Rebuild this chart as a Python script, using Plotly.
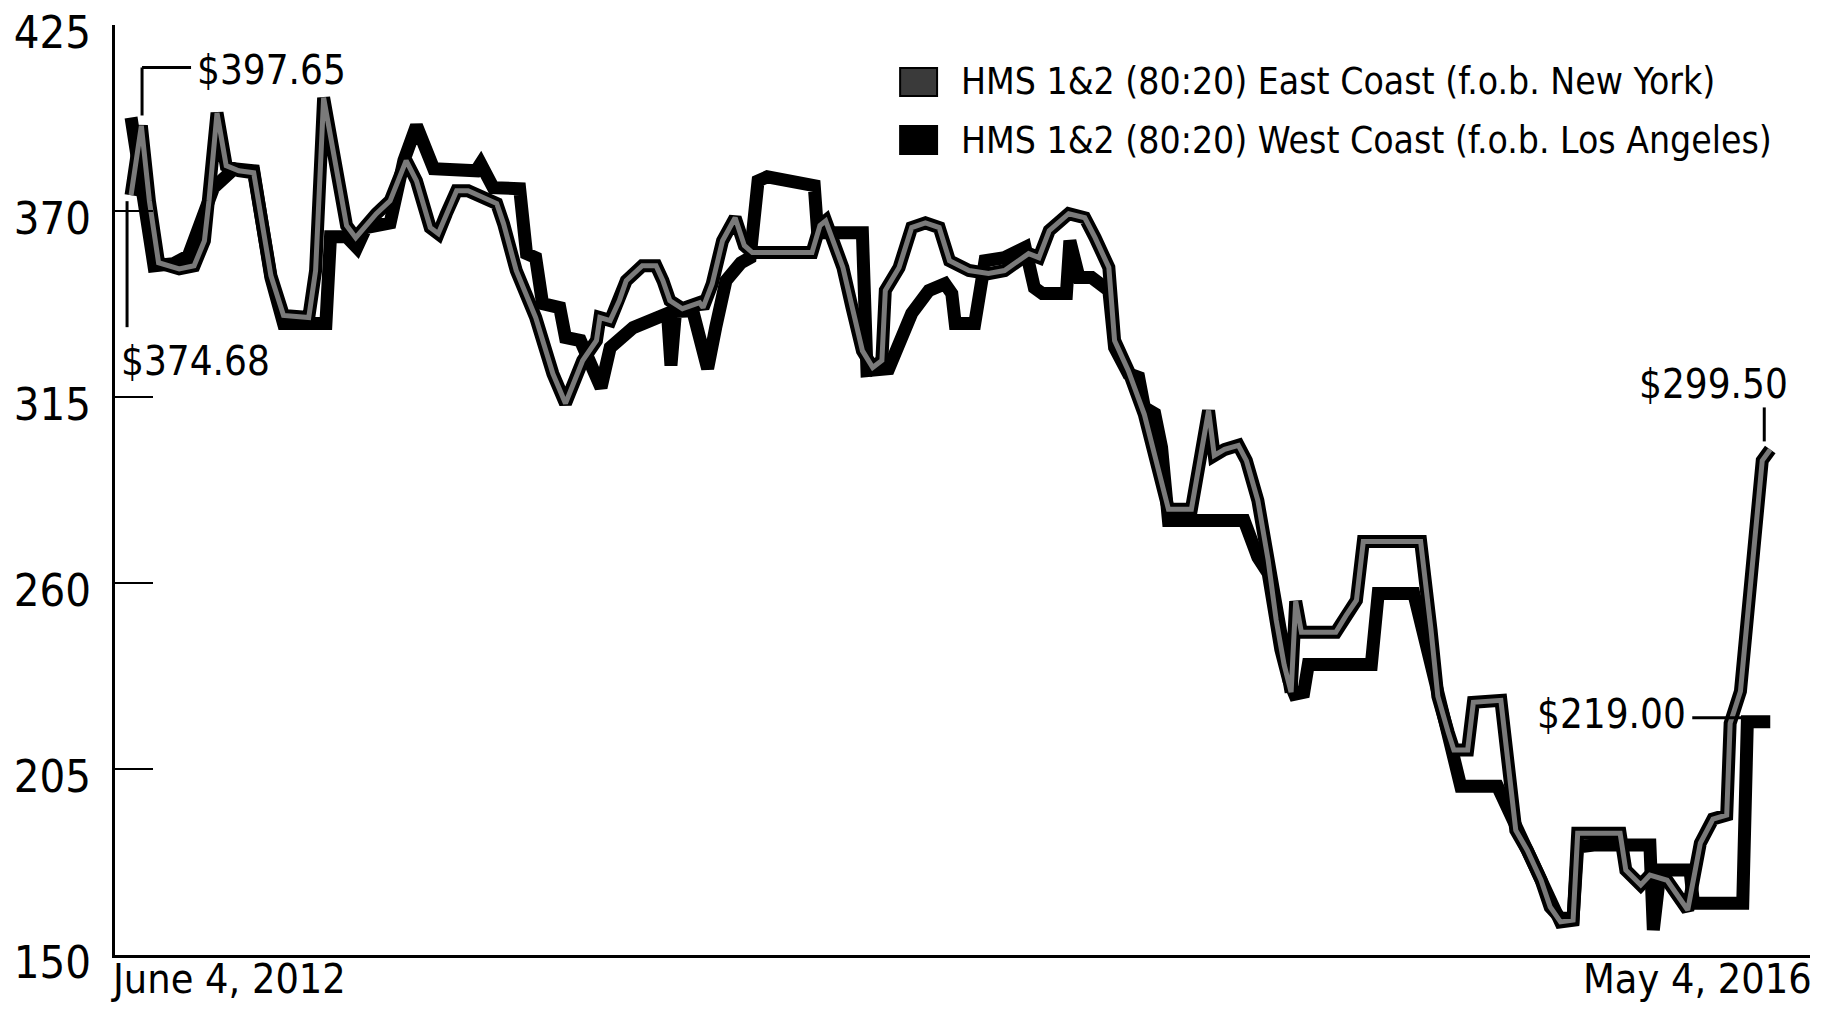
import plotly.graph_objects as go

# ---------------- data ----------------
east_name = "HMS 1&2 (80:20) East Coast (f.o.b. New York)"
west_name = "HMS 1&2 (80:20) West Coast (f.o.b. Los Angeles)"

west_dates = [
    "2012-06-04", "2012-06-24", "2012-07-11", "2012-07-24", "2012-08-15", "2012-09-02",
    "2012-09-19", "2012-10-04", "2012-10-15", "2012-11-21", "2012-11-25", "2012-12-09",
    "2012-12-18", "2012-12-26", "2013-01-16", "2013-01-28", "2013-02-08", "2013-02-23",
    "2013-04-01", "2013-04-05", "2013-04-16", "2013-05-09", "2013-05-15", "2013-05-23",
    "2013-05-29", "2013-06-13", "2013-06-18", "2013-07-01", "2013-07-19", "2013-07-27",
    "2013-08-16", "2013-09-05", "2013-09-15", "2013-09-18", "2013-09-22", "2013-10-07",
    "2013-10-20", "2013-10-27", "2013-11-05", "2013-11-18", "2013-11-26", "2013-12-03",
    "2013-12-11", "2014-01-21", "2014-01-24", "2014-03-04", "2014-03-08", "2014-03-27",
    "2014-04-02", "2014-04-16", "2014-05-01", "2014-05-15", "2014-05-21", "2014-05-24",
    "2014-06-10", "2014-06-15", "2014-06-19", "2014-07-06", "2014-07-24", "2014-08-01",
    "2014-08-08", "2014-08-29", "2014-09-01", "2014-09-09", "2014-09-20", "2014-10-05",
    "2014-10-10", "2014-10-22", "2014-10-31", "2014-11-05", "2014-11-14", "2014-11-20",
    "2014-11-23", "2014-11-26", "2015-01-31", "2015-02-12", "2015-02-21", "2015-02-26",
    "2015-03-04", "2015-03-11", "2015-03-16", "2015-03-24", "2015-03-28", "2015-05-22",
    "2015-05-28", "2015-06-28", "2015-07-13", "2015-07-19", "2015-07-28", "2015-08-02",
    "2015-08-08", "2015-09-09", "2015-10-05", "2015-10-17", "2015-10-25", "2015-11-03",
    "2015-11-14", "2015-11-18", "2015-12-02", "2016-01-20", "2016-01-23", "2016-01-29",
    "2016-02-24", "2016-02-27", "2016-04-10", "2016-04-14", "2016-05-04",
]
west_prices = [
    397.65, 353.8, 354.4, 356.8, 376.9, 382.5,
    381.9, 350.3, 336.7, 336.7, 362.4, 362.4,
    359.2, 365.1, 366.5, 384.9, 395.2, 382.5,
    381.9, 384.0, 376.9, 376.6, 357.4, 356.2,
    342.6, 341.4, 332.6, 331.7, 317.8, 329.6,
    335.5, 338.5, 339.7, 324.3, 340.3, 340.5,
    323.4, 335.5, 349.4, 354.7, 356.2, 378.9,
    380.1, 377.5, 363.6, 363.6, 322.8, 323.4,
    327.8, 339.7, 346.5, 348.5, 345.6, 336.7,
    336.7, 349.4, 355.3, 356.2, 359.2, 347.3,
    345.6, 345.6, 361.2, 350.3, 350.3, 346.5,
    329.6, 321.9, 320.8, 311.9, 310.1, 300.1,
    290.3, 278.5, 278.5, 267.6, 262.9, 252.2,
    240.4, 231.2, 227.1, 227.7, 235.9, 235.9,
    256.9, 256.9, 234.8, 226.5, 215.9, 205.2,
    199.9, 199.9, 181.9, 172.2, 164.2, 160.9,
    160.9, 181.9, 182.5, 182.5, 157.4, 175.1,
    175.1, 165.3, 165.3, 219.0, 219.00,
]

east_dates = [
    "2012-06-04", "2012-06-13", "2012-06-20", "2012-06-28", "2012-07-16", "2012-07-29",
    "2012-08-07", "2012-08-11", "2012-08-18", "2012-08-26", "2012-09-06", "2012-09-19",
    "2012-10-04", "2012-10-15", "2012-11-06", "2012-11-12", "2012-11-19", "2012-12-09",
    "2012-12-17", "2013-01-04", "2013-01-16", "2013-01-30", "2013-02-08", "2013-02-20",
    "2013-02-27", "2013-03-06", "2013-03-15", "2013-03-25", "2013-04-19", "2013-04-25",
    "2013-05-06", "2013-05-23", "2013-06-07", "2013-06-18", "2013-07-03", "2013-07-15",
    "2013-07-18", "2013-07-27", "2013-08-04", "2013-08-10", "2013-08-24", "2013-09-05",
    "2013-09-11", "2013-09-17", "2013-09-28", "2013-10-13", "2013-10-16", "2013-10-24",
    "2013-11-02", "2013-11-13", "2013-11-21", "2013-11-28", "2014-01-19", "2014-01-26",
    "2014-01-31", "2014-02-15", "2014-02-23", "2014-03-04", "2014-03-13", "2014-03-21",
    "2014-03-24", "2014-04-05", "2014-04-16", "2014-04-28", "2014-05-10", "2014-05-19",
    "2014-06-05", "2014-06-22", "2014-07-06", "2014-07-19", "2014-07-27", "2014-08-05",
    "2014-08-14", "2014-08-31", "2014-09-14", "2014-09-23", "2014-10-05", "2014-10-10",
    "2014-10-22", "2014-11-05", "2014-11-20", "2014-11-26", "2014-12-16", "2014-12-22",
    "2014-12-31", "2015-01-05", "2015-01-14", "2015-01-26", "2015-02-02", "2015-02-12",
    "2015-02-21", "2015-02-28", "2015-03-07", "2015-03-13", "2015-03-17", "2015-03-22",
    "2015-04-21", "2015-04-30", "2015-05-09", "2015-05-15", "2015-07-04", "2015-07-13",
    "2015-07-19", "2015-07-28", "2015-08-02", "2015-08-14", "2015-08-19", "2015-09-12",
    "2015-09-18", "2015-09-25", "2015-10-05", "2015-10-17", "2015-10-25", "2015-11-03",
    "2015-11-14", "2015-11-18", "2015-12-25", "2015-12-30", "2016-01-12", "2016-01-20",
    "2016-02-04", "2016-02-22", "2016-03-04", "2016-03-15", "2016-03-27", "2016-03-30",
    "2016-04-08", "2016-04-14", "2016-04-21", "2016-04-27", "2016-05-04",
]
east_prices = [
    374.68, 395.2, 373.0, 354.7, 352.9, 353.8,
    361.2, 373.0, 399.0, 383.4, 381.9, 381.3,
    350.9, 339.1, 338.5, 352.4, 403.5, 365.7,
    362.1, 369.2, 373.0, 384.9, 378.9, 365.1,
    363.3, 369.2, 376.0, 376.0, 372.2, 366.2,
    352.4, 338.5, 321.9, 313.1, 325.8, 331.7,
    338.5, 337.6, 343.5, 349.4, 353.8, 353.8,
    349.4, 343.5, 341.1, 342.9, 341.4, 348.5,
    361.2, 368.0, 359.8, 357.7, 357.7, 365.7,
    367.1, 353.3, 341.4, 328.7, 323.7, 325.8,
    346.5, 353.3, 365.1, 366.5, 365.1, 355.3,
    352.4, 351.5, 352.4, 355.3, 357.4, 356.2,
    364.2, 369.2, 368.0, 362.1, 353.3, 331.7,
    322.8, 309.8, 290.0, 281.8, 281.8, 293.6,
    311.0, 297.7, 299.5, 300.7, 296.2, 284.4,
    266.7, 249.0, 235.7, 227.7, 254.6, 245.4,
    245.4, 250.4, 254.9, 272.3, 272.3, 246.3,
    226.5, 215.9, 210.6, 210.6, 224.7, 225.3,
    207.6, 186.9, 181.0, 172.2, 164.2, 159.8,
    160.3, 186.0, 186.0, 175.1, 170.7, 173.6,
    172.1, 163.3, 183.1, 190.2, 191.4, 218.5,
    228.0, 249.0, 272.6, 296.2, 299.50,
]

y_ticks = [150, 205, 260, 315, 370, 425]
x_labels = ["June 4, 2012", "May 4, 2016"]

# ---------------- styling ----------------
FONT = "DejaVu Sans Condensed, Liberation Sans Narrow, Arial Narrow, sans-serif"
INK = "#000000"
EAST_FILL = "#7a7a7a"

fig = go.Figure()

fig.add_trace(go.Scatter(
    x=west_dates, y=west_prices, mode="lines", name=west_name,
    line=dict(color=INK, width=13), showlegend=False, hoverinfo="x+y+name"))
fig.add_trace(go.Scatter(
    x=east_dates, y=east_prices, mode="lines", name=east_name,
    line=dict(color=INK, width=13), showlegend=False, hoverinfo="x+y+name"))
fig.add_trace(go.Scatter(
    x=east_dates, y=east_prices, mode="lines", name=east_name,
    line=dict(color=EAST_FILL, width=5), showlegend=False, hoverinfo="skip"))

def money(v):
    return "${:,.2f}".format(v)

ann_font = dict(family=FONT, size=40, color=INK)
annotations = [
    # start values
    dict(x=west_dates[0], y=west_prices[0], xref="x", yref="y", text=money(west_prices[0]),
         showarrow=False, xanchor="left", yanchor="middle", xshift=64, yshift=47, font=ann_font),
    dict(x=east_dates[0], y=east_prices[0], xref="x", yref="y", text=money(east_prices[0]),
         showarrow=False, xanchor="left", yanchor="top", xshift=-12, yshift=-141, font=ann_font),
    # end values
    dict(x=east_dates[-1], y=east_prices[-1], xref="x", yref="y", text=money(east_prices[-1]),
         showarrow=False, xanchor="right", yanchor="bottom", xshift=20, yshift=40, font=ann_font),
    dict(x=west_dates[-1], y=west_prices[-1], xref="x", yref="y", text=money(west_prices[-1]),
         showarrow=False, xanchor="right", yanchor="middle", xshift=-82, yshift=8, font=ann_font),
    # x-axis end labels
    dict(x=west_dates[0], y=0, xref="x", yref="paper", text=x_labels[0], showarrow=False,
         xanchor="left", yanchor="top", xshift=-22, yshift=2, font=dict(family=FONT, size=41, color=INK)),
    dict(x=west_dates[-1], y=0, xref="x", yref="paper", text=x_labels[1], showarrow=False,
         xanchor="right", yanchor="top", xshift=44, yshift=2, font=dict(family=FONT, size=41, color=INK)),
    # legend text
    dict(x=0.4980, y=0.9390, xref="paper", yref="paper", text=east_name, showarrow=False,
         xanchor="left", yanchor="middle", font=dict(family=FONT, size=37, color=INK)),
    dict(x=0.4980, y=0.8755, xref="paper", yref="paper", text=west_name, showarrow=False,
         xanchor="left", yanchor="middle", font=dict(family=FONT, size=37, color=INK)),
]

lead = dict(color=INK, width=3)
shapes = [
    # $397.65 leader (L shape)
    dict(type="line", xref="x", yref="y", xsizemode="pixel", ysizemode="pixel",
         xanchor=west_dates[0], yanchor=west_prices[0], x0=11, x1=11, y0=2, y1=50, line=lead),
    dict(type="line", xref="x", yref="y", xsizemode="pixel", ysizemode="pixel",
         xanchor=west_dates[0], yanchor=west_prices[0], x0=11, x1=60, y0=50, y1=50, line=lead),
    # $374.68 leader
    dict(type="line", xref="x", yref="y", xsizemode="pixel", ysizemode="pixel",
         xanchor=east_dates[0], yanchor=east_prices[0], x0=-4, x1=-4, y0=-6, y1=-132, line=lead),
    # $299.50 leader
    dict(type="line", xref="x", yref="y", xsizemode="pixel", ysizemode="pixel",
         xanchor=east_dates[-1], yanchor=east_prices[-1], x0=-6, x1=-6, y0=8, y1=42, line=lead),
    # $219.00 leader
    dict(type="line", xref="x", yref="y", xsizemode="pixel", ysizemode="pixel",
         xanchor=west_dates[-1], yanchor=west_prices[-1], x0=-78, x1=-26, y0=4, y1=4, line=lead),
    # legend swatches
    dict(type="rect", xref="paper", yref="paper", x0=0.4632, x1=0.4850, y0=0.9237, y1=0.9538,
         fillcolor="#3a3a3a", line=dict(color=INK, width=2)),
    dict(type="rect", xref="paper", yref="paper", x0=0.4632, x1=0.4850, y0=0.8613, y1=0.8914,
         fillcolor=INK, line=dict(color=INK, width=2)),
]

# Full-window figure; the page's default body margin is removed after plotting.
fig.update_layout(
    width=1824, height=1013,
    paper_bgcolor="white", plot_bgcolor="white",
    margin=dict(l=115, r=14, t=25, b=58, autoexpand=False),
    font=dict(family=FONT, color=INK),
    showlegend=False,
    annotations=annotations,
    shapes=shapes,
    xaxis=dict(
        type="date", range=["2012-05-21", "2016-06-07 16:00"],
        showline=True, linecolor=INK, linewidth=3, automargin=False,
        showgrid=False, zeroline=False, ticks="", showticklabels=False,
    ),
    yaxis=dict(
        range=[150, 425], tickvals=y_ticks, ticktext=[str(v) for v in y_ticks],
        showline=True, linecolor=INK, linewidth=3, automargin=False,
        ticks="inside", ticklen=38, tickwidth=2, tickcolor=INK,
        showgrid=False, zeroline=False,
        tickfont=dict(family=FONT, size=45, color=INK),
        ticklabelstandoff=12, ticklabelshift=7, ticklabeloverflow="allow",
    ),
)

fig.write_html(
    "out.html",
    config={"displayModeBar": False},
    post_script="document.body.style.margin='0';document.body.style.overflow='hidden';",
)
